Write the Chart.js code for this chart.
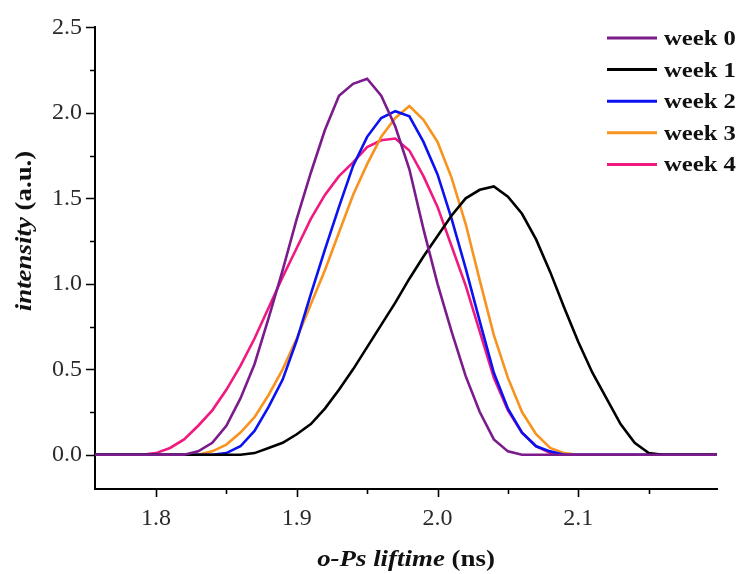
<!DOCTYPE html>
<html><head><meta charset="utf-8">
<script src="https://cdn.jsdelivr.net/npm/chart.js@4"></script>
<style>html,body{margin:0;padding:0;background:#fff}</style>
</head><body>
<canvas id="c" width="740" height="574" style="width:740px;height:574px;display:block"></canvas>
<script>
// o-Ps lifetime grid (ns)
const lifetime = [1.75,1.76,1.77,1.78,1.79,1.80,1.81,1.82,1.83,1.84,1.85,1.86,1.87,1.88,1.89,1.90,1.91,1.92,1.93,1.94,1.95,1.96,1.97,1.98,1.99,2.00,2.01,2.02,2.03,2.04,2.05,2.06,2.07,2.08,2.09,2.10,2.11,2.12,2.13,2.14,2.15,2.16,2.17,2.18,2.19,2.20];
const week0 = [0,0,0,0,0,0,0,0,0.02,0.07,0.17,0.33,0.53,0.80,1.08,1.38,1.65,1.90,2.10,2.17,2.20,2.10,1.92,1.67,1.32,1.00,0.72,0.46,0.25,0.09,0.02,0,0,0,0,0,0,0,0,0,0,0,0,0,0,0];
const week1 = [0,0,0,0,0,0,0,0,0,0,0,0,0.01,0.04,0.07,0.12,0.18,0.27,0.38,0.50,0.63,0.76,0.89,1.03,1.16,1.28,1.40,1.50,1.55,1.57,1.51,1.41,1.26,1.07,0.86,0.66,0.48,0.33,0.18,0.07,0.01,0,0,0,0,0];
const week2 = [0,0,0,0,0,0,0,0,0,0,0.01,0.05,0.14,0.28,0.44,0.67,0.94,1.20,1.45,1.69,1.86,1.97,2.01,1.98,1.83,1.64,1.38,1.09,0.78,0.48,0.27,0.13,0.05,0.02,0,0,0,0,0,0,0,0,0,0,0,0];
const week3 = [0,0,0,0,0,0,0,0,0,0.02,0.06,0.13,0.22,0.35,0.50,0.68,0.88,1.08,1.30,1.52,1.70,1.86,1.97,2.04,1.96,1.83,1.62,1.35,1.02,0.70,0.45,0.25,0.12,0.04,0.01,0,0,0,0,0,0,0,0,0,0,0];
const week4 = [0,0,0,0,0,0.01,0.04,0.09,0.17,0.26,0.38,0.52,0.68,0.86,1.04,1.21,1.38,1.52,1.63,1.71,1.80,1.84,1.85,1.78,1.63,1.45,1.22,0.99,0.72,0.45,0.26,0.13,0.05,0.01,0,0,0,0,0,0,0,0,0,0,0,0];
const seriesLabels = ['week 0','week 1','week 2','week 3','week 4'];
const seriesColors = ['#7b1b8c','#000000','#0a12f2','#f7931e','#f0197f'];
const yMajorTicks = [0.0,0.5,1.0,1.5,2.0,2.5];
const yMinorTicks = [0.25,0.75,1.25,1.75,2.25];
const xMajorTicks = [1.8,1.9,2.0,2.1];
const xMinorTicks = [1.85,1.95,2.05,2.15];
const xTitleParts = [['o-Ps liftime','bold italic'],[' (ns)','bold']];
const yTitleParts = [['intensity','bold italic'],[' (a.u.)','bold']];

const allSeries = [week0,week1,week2,week3,week4];
const SERIF = '"Liberation Serif","Times New Roman",serif';
const STRETCH = 1.12;

function drawParts(ctx, parts, size) {
  let total = 0;
  const widths = parts.map(([t,s]) => { ctx.font = s+' '+size+'px '+SERIF; const w = ctx.measureText(t).width; total += w; return w; });
  let x = -total/2;
  parts.forEach(([t,s],i) => { ctx.font = s+' '+size+'px '+SERIF; ctx.fillText(t, x, 0); x += widths[i]; });
}

const decor = {
  id: 'decor',
  afterDraw(chart) {
    const {ctx, chartArea: a, scales: {x, y}} = chart;
    ctx.save();
    ctx.strokeStyle = '#000';
    ctx.lineWidth = 1.6;
    ctx.beginPath();
    yMajorTicks.forEach(v => { const p = Math.round(y.getPixelForValue(v)) + 0.5; ctx.moveTo(a.left - 9, p); ctx.lineTo(a.left, p); });
    yMinorTicks.forEach(v => { const p = Math.round(y.getPixelForValue(v)) + 0.5; ctx.moveTo(a.left - 5, p); ctx.lineTo(a.left, p); });
    xMajorTicks.forEach(v => { const p = Math.round(x.getPixelForValue(v)) + 0.5; ctx.moveTo(p, a.bottom); ctx.lineTo(p, a.bottom + 8); });
    xMinorTicks.forEach(v => { const p = Math.round(x.getPixelForValue(v)) + 0.5; ctx.moveTo(p, a.bottom); ctx.lineTo(p, a.bottom + 5); });
    ctx.stroke();

    ctx.fillStyle = '#111';
    ctx.textBaseline = 'alphabetic';
    ctx.textAlign = 'left';
    ctx.save();
    ctx.translate((a.left + a.right) / 2, 566);
    ctx.scale(STRETCH, 1);
    drawParts(ctx, xTitleParts, 24);
    ctx.restore();
    ctx.save();
    ctx.translate(31, 231);
    ctx.rotate(-Math.PI / 2);
    ctx.scale(STRETCH, 1);
    drawParts(ctx, yTitleParts, 24);
    ctx.restore();

    chart.data.datasets.forEach((ds, i) => {
      const ly = 38 + i * 31.6;
      ctx.strokeStyle = ds.borderColor;
      ctx.lineWidth = 3;
      ctx.beginPath();
      ctx.moveTo(607, ly); ctx.lineTo(657, ly);
      ctx.stroke();
      ctx.save();
      ctx.translate(664, ly + 7);
      ctx.scale(STRETCH, 1);
      ctx.fillStyle = '#111';
      ctx.font = 'bold 22px ' + SERIF;
      ctx.fillText(ds.label, 0, 0);
      ctx.restore();
    });
    ctx.restore();
  }
};

new Chart(document.getElementById('c'), {
  type: 'line',
  data: {
    datasets: allSeries.map((s, i) => ({
      label: seriesLabels[i],
      data: lifetime.map((lt, j) => ({x: lt, y: s[j]})),
      borderColor: seriesColors[i],
      backgroundColor: seriesColors[i],
      borderWidth: 2.6,
      pointRadius: 0,
      tension: 0,
      fill: false
    }))
  },
  options: {
    responsive: false,
    animation: false,
    devicePixelRatio: 1,
    layout: {padding: {top: 26, right: 23, left: 0, bottom: 0}},
    plugins: {legend: {display: false}, tooltip: {enabled: false}},
    scales: {
      x: {
        type: 'linear',
        min: 1.7567,
        max: 2.1985,
        afterFit: s => { s.height = 85; },
        afterBuildTicks: s => { s.ticks = xMajorTicks.map(v => ({value: v})); },
        grid: {display: false, drawTicks: false},
        border: {display: true, color: '#000', width: 2},
        ticks: {
          padding: 15,
          color: '#2a2a2a',
          font: {family: SERIF, size: 24},
          callback: v => Number(v).toFixed(1),
          maxRotation: 0
        }
      },
      y: {
        min: -0.2,
        max: 2.5,
        afterFit: s => { s.width = 95; },
        afterBuildTicks: s => { s.ticks = yMajorTicks.map(v => ({value: v})); },
        grid: {display: false, drawTicks: false},
        border: {display: true, color: '#000', width: 2},
        ticks: {
          padding: 13,
          color: '#2a2a2a',
          font: {family: SERIF, size: 24},
          callback: v => Number(v).toFixed(1)
        }
      }
    }
  },
  plugins: [decor]
});
</script>
</body></html>
